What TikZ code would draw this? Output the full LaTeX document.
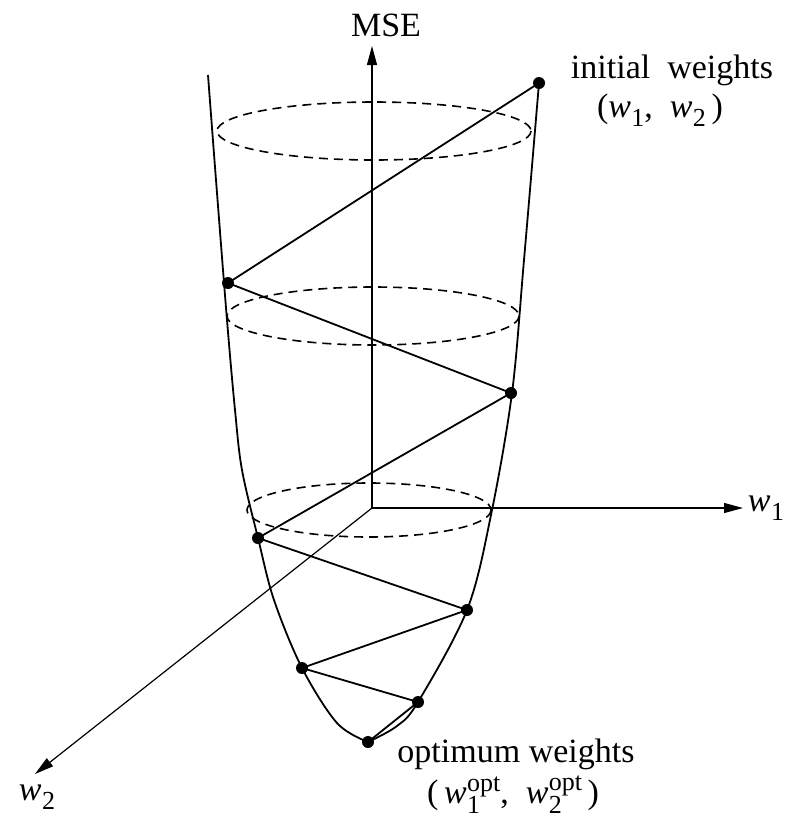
\documentclass[tikz,border=0pt]{standalone}
\usepackage{fontspec}
\setmainfont{Liberation Serif}
\usetikzlibrary{arrows.meta}
\newcommand\wsb[1]{\textit{w}\kern0.01em\raisebox{-0.28em}{\fontsize{26}{26}\selectfont #1}}
\newcommand\wopt[1]{\textit{w}\kern0.01em\raisebox{-0.3em}{\fontsize{26}{26}\selectfont\shortstack[l]{opt\\[-3pt]#1}}}
\begin{document}
\begin{tikzpicture}[x=1pt,y=-1pt,
  lbl/.style={font=\fontsize{34}{38}\selectfont, inner sep=0pt},
  dot/.style={circle, fill=black, inner sep=0pt, minimum size=12pt},
  axis/.style={line width=1.2pt, -{Triangle[length=19pt,width=10pt]}},
  curve/.style={line width=1.8pt},
  zig/.style={line width=1.8pt},
  ell/.style={line width=1.6pt, dash pattern=on 9pt off 6pt}]
\useasboundingbox (0,0) rectangle (786,820);
% axes
\coordinate (O) at (372,508);
\coordinate (Ztip) at (372,46);
\coordinate (Xtip) at (743,508);
\coordinate (Ytip) at (35,774);
\draw[axis] (O) -- (Ztip);
\draw[axis] (O) -- (Xtip);
\draw[axis] (O) -- (Ytip);
% dashed level ellipses
\draw[ell] (374,131) ellipse [x radius=157, y radius=29];
\draw[ell] (373,316) ellipse [x radius=146, y radius=29];
\draw[ell] (369,510) ellipse [x radius=122, y radius=27];
% bowl
\draw[curve] plot[smooth, tension=0.55] coordinates {(208,75) (216,180) (227,320) (235,410) (242,470) (258,538) (274,600) (302,668) (337,723) (368,742)};
\draw[curve] plot[smooth, tension=0.55] coordinates {(368,742) (397,726) (418,702) (467,610) (491,515) (512,393) (524,260) (539,83)};
% iterates
\node[dot] (p0) at (539,83) {};
\node[dot] (p1) at (228,283) {};
\node[dot] (p2) at (511,393) {};
\node[dot] (p3) at (258,538) {};
\node[dot] (p4) at (467,610) {};
\node[dot] (p5) at (302,668) {};
\node[dot] (p6) at (418,702) {};
\node[dot] (p7) at (368,742) {};
\draw[zig] (p0.center) -- (p1.center) -- (p2.center) -- (p3.center) -- (p4.center) -- (p5.center) -- (p6.center) -- (p7.center);
% labels
\node[lbl] (mse) at (386,25) {MSE};
\node[lbl] (lw1) at (766,508) {\wsb{1}};
\node[lbl] (lw2) at (37,797) {\wsb{2}};
\node[lbl] (init) at (672,70) {initial\ \ weights};
\node[lbl] (initw) at (660,110) {(\wsb{1},\ \ \wsb{2}\,)};
\node[lbl] (opt) at (516,754) {optimum weights};
\node[lbl] (optw) at (513,795) {(\,\wopt{1},\ \ \wopt{2}\,)};
\end{tikzpicture}
\end{document}
